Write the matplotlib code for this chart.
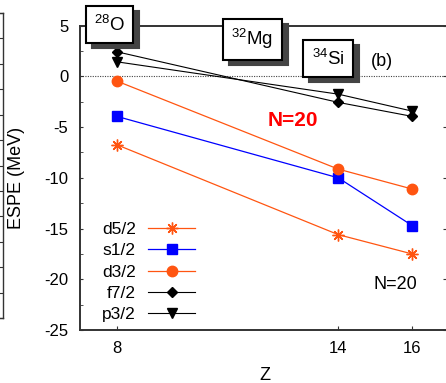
import matplotlib
matplotlib.use("Agg")
import matplotlib.pyplot as plt
import matplotlib.transforms as mtransforms
from matplotlib.ticker import MultipleLocator

plt.rcParams['font.family'] = ['Liberation Sans', 'DejaVu Sans']
plt.rcParams['mathtext.fontset'] = 'custom'
plt.rcParams['mathtext.rm'] = 'Liberation Sans'
plt.rcParams['mathtext.default'] = 'regular'
plt.rcParams['axes.unicode_minus'] = False

# data
Z = [8, 14, 16]
d52 = [-6.74, -15.6, -17.5]
s12 = [-3.94, -10.0, -14.7]
d32 = [-0.46, -9.14, -11.1]
f72 = [2.43, -2.56, -3.94]
p32 = [1.44, -1.75, -3.42]

orange = '#ff5511'
W, H = 446, 383
fig = plt.figure(figsize=(W / 100, H / 100), dpi=100)

# main axes (right spine falls just off the picture)
ax = fig.add_axes([80 / W, (H - 330) / H, 369 / W, 304.3 / H])

ax.plot(Z, d52, color=orange, lw=0.9, marker=(8, 2, 0), ms=8.5, mew=1.0, label='d5/2')
ax.plot(Z, s12, color='#0000ff', lw=0.9, marker='s', ms=7.5, label='s1/2')
ax.plot(Z, d32, color=orange, lw=0.9, marker='o', ms=7.5, label='d3/2')
ax.plot(Z, f72, color='black', lw=0.8, marker='D', ms=5, label='f7/2')
ax.plot(Z, p32, color='black', lw=0.8, marker='v', ms=6.5, label='p3/2')
ax.axhline(0, color='#444444', ls=(0, (1, 1.2)), lw=0.8, zorder=0)

ax.set_xlim(7, 17)
ax.set_ylim(-25, 5)
ax.set_xticks(Z)
ax.yaxis.set_major_locator(MultipleLocator(5))
ax.yaxis.set_minor_locator(MultipleLocator(2.5))
ax.tick_params(axis='both', which='both', direction='in', labelsize=12, colors='#333333',
               labelcolor='black')
ax.tick_params(axis='y', which='both', length=2.3, pad=8.5, right=False)
ax.tick_params(axis='x', length=3, pad=8)
for sp in ax.spines.values():
    sp.set_color('#333333')
    sp.set_linewidth(1.4)

ax2 = ax.twinx()
ax2.set_ylim(-25, 5)
ax2.yaxis.set_major_locator(MultipleLocator(5))
ax2.tick_params(axis='y', direction='in', length=4.3, labelright=False, colors='#333333')
ax2.spines[:].set_visible(False)

ax.set_xlabel('Z', fontsize=13)
ax.xaxis.set_label_coords(0.5, -0.122)
ax.set_ylabel('ESPE (MeV)', fontsize=13)
ax.yaxis.set_label_coords(-0.148, 0.5)

leg = ax.legend(loc='center right', bbox_to_anchor=(195 / W, (H - 272) / H),
                bbox_transform=fig.transFigure, frameon=False, markerfirst=False,
                fontsize=12.5, handlelength=2.7, handletextpad=0.7, labelspacing=0.36,
                borderpad=0, borderaxespad=0)

# nucleus labels in shadowed boxes
boxes = [(7.80, 5.12, r'$^{28}$O'), (11.67, 3.65, r'$^{32}$Mg'), (13.72, 1.72, r'$^{34}$Si')]
shift = mtransforms.offset_copy(ax.transData, fig=fig, x=6, y=-5, units='dots')
for x, y, s in boxes:
    ax.text(x, y, s, transform=shift, ha='center', va='center', fontsize=13.5, color='#444444',
            clip_on=False, zorder=9,
            bbox=dict(boxstyle='square,pad=0.45', fc='#444444', ec='#444444', lw=1.5))
    ax.text(x, y, s, ha='center', va='center', fontsize=13.5, clip_on=False, zorder=10,
            bbox=dict(boxstyle='square,pad=0.45', fc='white', ec='black', lw=1.5))

ax.text(15.18, 1.51, '(b)', ha='center', va='center', fontsize=13)
ax.text(12.77, -4.31, 'N=20', ha='center', va='center', fontsize=15, fontweight='bold',
        color='#ff0000')
ax.text(15.55, -20.53, 'N=20', ha='center', va='center', fontsize=13)

# right edge of the neighbouring panel, cut off on the left
axl = fig.add_axes([-0.5, (H - 318) / H, 0.5 + 2.7 / W, 305 / H])
axl.set_ylim(0, 12)
axl.set_yticks(range(13))
axl.set_xticks([])
axl.tick_params(axis='y', direction='in', left=False, right=True, labelleft=False,
                length=3, colors='#333333')
for sp in axl.spines.values():
    sp.set_color('#333333')
    sp.set_linewidth(1.0)

fig.savefig('out.png', dpi=100)
